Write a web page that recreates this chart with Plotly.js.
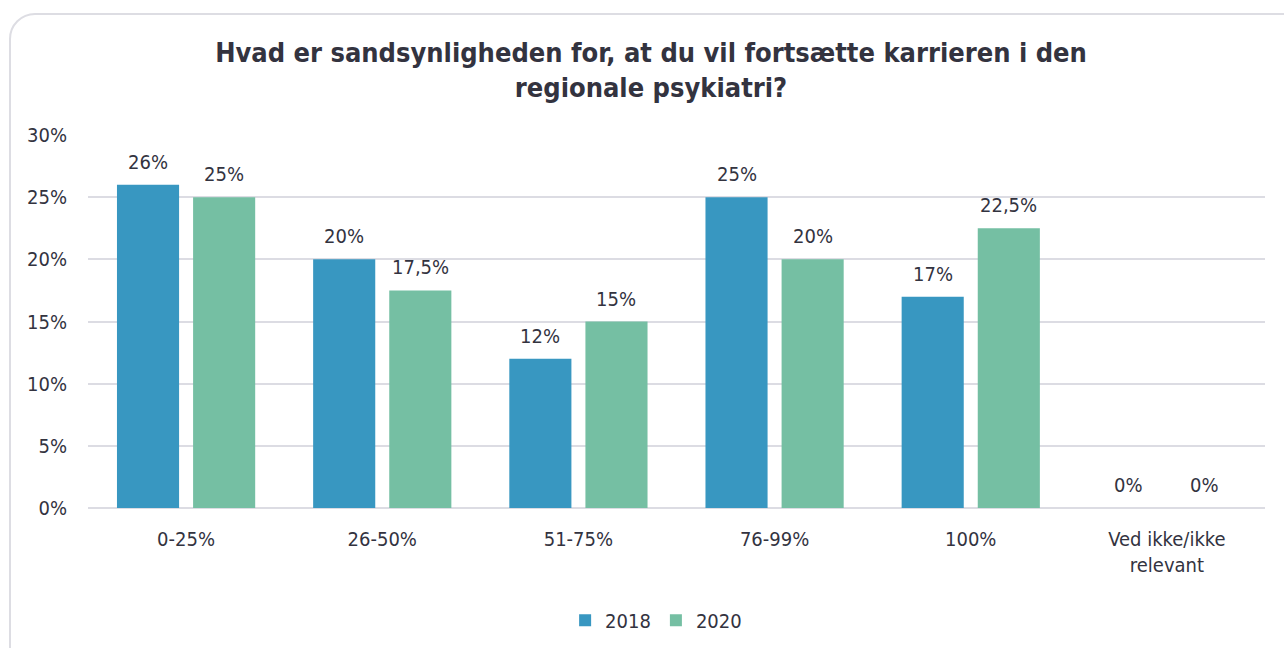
<!DOCTYPE html>
<html>
<head>
<meta charset="utf-8">
<script src="https://cdn.plot.ly/plotly-3.0.1.min.js"></script>
<style>
  html, body { margin:0; padding:0; background:#ffffff; overflow:hidden; }
  #wrap { position:relative; width:1284px; height:648px; }
  #frame { position:absolute; left:9px; top:13px; width:1300px; height:680px;
           border:2px solid #dddde3; border-radius:26px; box-sizing:border-box; }
  #chart { position:absolute; left:0; top:0; width:1284px; height:648px; }
</style>
</head>
<body>
<div id="wrap">
  <div id="frame"></div>
  <div id="chart"></div>
</div>
<script>
const categories = ['0-25%', '26-50%', '51-75%', '76-99%', '100%', 'Ved ikke/ikke<br>relevant'];
const values2018 = [26, 20, 12, 25, 17, 0];
const values2020 = [25, 17.5, 15, 20, 22.5, 0];
const yTickVals = [0, 5, 10, 15, 20, 25, 30];
const yTickText = ['0%', '5%', '10%', '15%', '20%', '25%', '30%'];

const fmt = v => String(v).replace('.', ',') + '%';
const FONT = 'DejaVu Sans Condensed, DejaVu Sans, sans-serif';
const TXT = '#33333f';
const FS = 20;

const traces = [
  {
    type: 'bar', name: '2018', x: categories, y: values2018,
    marker: { color: '#3897c1' }, hoverinfo: 'skip'
  },
  {
    type: 'bar', name: '2020', x: categories, y: values2020,
    marker: { color: '#75bfa3' }, hoverinfo: 'skip'
  }
];

// value labels placed from the data arrays, offset to each bar of the group
const annotations = [];
[[values2018, -38], [values2020, 38]].forEach(([vals, dx]) => {
  vals.forEach((v, i) => {
    annotations.push({
      x: categories[i], y: v, xref: 'x', yref: 'y',
      text: fmt(v), showarrow: false,
      xanchor: 'center', yanchor: 'bottom',
      xshift: dx, yshift: 9,
      font: { family: FONT, size: FS, color: TXT }
    });
  });
});

const layout = {
  width: 1284, height: 648,
  paper_bgcolor: 'rgba(0,0,0,0)', plot_bgcolor: 'rgba(0,0,0,0)',
  margin: { l: 88, r: 19, t: 135, b: 140 },
  font: { family: FONT, size: FS, color: TXT },
  title: {
    text: '<b>Hvad er sandsynligheden for, at du vil fortsætte karrieren i den<br>regionale psykiatri?</b>',
    font: { family: FONT, size: 27, color: TXT },
    x: 0.507, xref: 'container', xanchor: 'center',
    y: 0.905, yref: 'container', yanchor: 'top'
  },
  barmode: 'group', bargap: 0.224, bargroupgap: 0.184,
  showlegend: true,
  legend: {
    orientation: 'h', xref: 'container', yref: 'container',
    x: 0.511, xanchor: 'center', y: 0.043, yanchor: 'middle',
    font: { family: FONT, size: FS, color: TXT },
    itemwidth: 30, tracegroupgap: 0
  },
  annotations: annotations,
  xaxis: {
    type: 'category', showgrid: false, showline: false, zeroline: false,
    ticks: '', tickfont: { family: FONT, size: FS, color: TXT },
    ticklabelstandoff: 17
  },
  yaxis: {
    range: [0, 30], tickvals: yTickVals, ticktext: yTickText,
    showgrid: true, gridcolor: '#dcdce3', gridwidth: 2,
    zeroline: true, zerolinecolor: '#dcdce3', zerolinewidth: 2,
    showline: false, ticks: '',
    tickfont: { family: FONT, size: FS, color: TXT },
    ticklabelstandoff: 20
  }
};

Plotly.newPlot('chart', traces, layout, { displayModeBar: false, staticPlot: true });
</script>
</body>
</html>
